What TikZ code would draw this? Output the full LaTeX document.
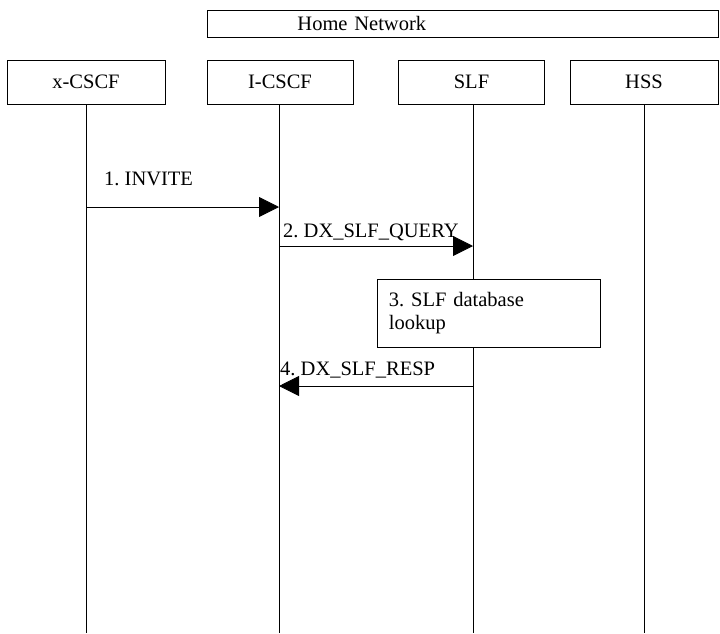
\documentclass[tikz,border=0pt]{standalone}
\usepackage{fontspec}
\setmainfont{Liberation Serif}
\usetikzlibrary{arrows.meta}
\frenchspacing
\tikzset{
  entity/.style={draw, line width=0.9pt, minimum width=146pt, minimum height=44pt, inner sep=0pt},
  msg/.style={-{Triangle[length=20pt,width=20pt]}, line width=0.8pt},
  msglabel/.style={anchor=base west, inner sep=0pt},
}
\begin{document}
\begin{tikzpicture}[x=1pt, y=-1pt, font=\fontsize{20.5}{23}\selectfont]
      \useasboundingbox (0,0) rectangle (720,633);
      \node[draw, line width=0.9pt, anchor=north west, minimum height=27pt,
            inner xsep=4pt, text width=503pt, align=left] (home) at (207,10)
            {\hspace*{86pt}Home Network};
      \draw
        (86,82) node[entity, minimum width=158pt] (xcscf){x-CSCF}
        (280,82) node[entity] (icscf){I-CSCF}
        (471.5,82) node[entity] (slf){SLF}
        (644,82) node[entity, minimum width=148pt] (hss){HSS};
      % lifelines
      \coordinate (xcscf-end) at (86,633);
      \coordinate (icscf-end) at (279,633);
      \coordinate (slf-end) at (473,633);
      \coordinate (hss-end) at (644,633);
      \begin{scope}[line width=0.8pt]
        \draw (xcscf.south) -- (xcscf-end);
        \draw (279,104) -- (icscf-end);
        \draw (473,104) -- (slf-end);
        \draw (hss.south) -- (hss-end);
      \end{scope}
      % messages
      \coordinate (m1a) at (86,207);
      \coordinate (m1b) at (279,207);
      \coordinate (m2a) at (279,246);
      \coordinate (m2b) at (473,246);
      \coordinate (m4a) at (473,386);
      \coordinate (m4b) at (279,386);
      \draw[msg] (m1a) -- (m1b);
      \draw[msg] (m2a) -- (m2b);
      \draw[msg] (m4a) -- (m4b);
      \node[msglabel] (l1) at (104,185) {1. INVITE};
      \node[msglabel] (l2) at (283,237) {2. DX\_SLF\_QUERY};
      \node[msglabel] (l4) at (280,375) {4. DX\_SLF\_RESP};
      \node[draw, line width=0.9pt, fill=white, anchor=north west, minimum width=223pt,
            minimum height=68pt, text width=200pt, inner xsep=10pt, align=left] (lookup)
            at (377,279) {3. SLF database\\lookup};
    \end{tikzpicture}
\end{document}
